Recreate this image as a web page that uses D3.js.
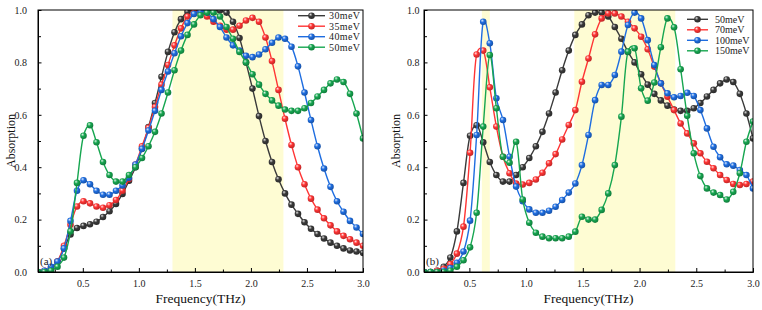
<!DOCTYPE html>
<html lang="en">
<head>
<meta charset="utf-8">
<title>Absorption spectra</title>
<script src="https://cdn.jsdelivr.net/npm/d3@7"></script>
<style>
  body { margin: 0; background: #fff; }
  svg text { font-family: "Liberation Serif", "Times New Roman", serif; }
</style>
</head>
<body>
<svg width="762" height="310" id="mainsvg"></svg>
<script>
// sampled frequencies (THz)
const freq = [0.1, 0.158, 0.216, 0.274, 0.332, 0.39, 0.448, 0.506, 0.564, 0.622,
  0.68, 0.738, 0.796, 0.854, 0.912, 0.97, 1.028, 1.086, 1.144, 1.202,
  1.26, 1.318, 1.376, 1.434, 1.492, 1.55, 1.608, 1.666, 1.724, 1.782,
  1.84, 1.898, 1.956, 2.014, 2.072, 2.13, 2.188, 2.246, 2.304, 2.362,
  2.42, 2.478, 2.536, 2.594, 2.652, 2.71, 2.768, 2.826, 2.884, 2.942, 3.0];

// panel (a)
const abs30 = [0, 0.003, 0.012, 0.04, 0.09, 0.143, 0.168, 0.176, 0.182, 0.192,
  0.21, 0.232, 0.26, 0.298, 0.348, 0.40, 0.47, 0.553, 0.645, 0.745,
  0.84, 0.915, 0.965, 0.993, 1.0, 1.0, 1.0, 1.0, 0.998, 0.99,
  0.955, 0.893, 0.80, 0.70, 0.595, 0.50, 0.42, 0.354, 0.30, 0.257,
  0.222, 0.19, 0.165, 0.145, 0.128, 0.112, 0.10, 0.09, 0.082, 0.078, 0.073];
const abs35 = [0, 0.005, 0.015, 0.04, 0.1, 0.18, 0.25, 0.27, 0.262, 0.25,
  0.245, 0.255, 0.275, 0.31, 0.355, 0.41, 0.48, 0.55, 0.63, 0.715,
  0.79, 0.865, 0.93, 0.975, 0.99, 0.99, 0.975, 0.955, 0.94, 0.925,
  0.925, 0.94, 0.96, 0.97, 0.955, 0.895, 0.805, 0.695, 0.585, 0.485,
  0.40, 0.335, 0.28, 0.238, 0.205, 0.178, 0.155, 0.138, 0.125, 0.112, 0.10];
const abs40 = [0, 0.005, 0.02, 0.04, 0.09, 0.195, 0.31, 0.35, 0.335, 0.31,
  0.295, 0.295, 0.31, 0.33, 0.36, 0.41, 0.47, 0.54, 0.615, 0.695,
  0.765, 0.835, 0.90, 0.95, 0.985, 0.995, 0.99, 0.965, 0.935, 0.895,
  0.865, 0.845, 0.825, 0.82, 0.83, 0.85, 0.875, 0.895, 0.89, 0.86,
  0.785, 0.685, 0.58, 0.48, 0.395, 0.325, 0.27, 0.23, 0.195, 0.17, 0.145];
const abs50 = [0, 0, 0.005, 0.02, 0.055, 0.155, 0.34, 0.52, 0.56, 0.495,
  0.42, 0.37, 0.345, 0.345, 0.37, 0.40, 0.435, 0.48, 0.535, 0.605,
  0.685, 0.77, 0.845, 0.905, 0.945, 0.98, 0.99, 0.99, 0.975, 0.935,
  0.89, 0.84, 0.80, 0.755, 0.715, 0.68, 0.655, 0.635, 0.62, 0.615,
  0.615, 0.625, 0.645, 0.67, 0.695, 0.72, 0.735, 0.725, 0.68, 0.605, 0.51];

// panel (b)
const abs70 = [0, 0, 0.005, 0.012, 0.03, 0.07, 0.173, 0.455, 0.83, 0.845,
  0.705, 0.555, 0.44, 0.377, 0.338, 0.334, 0.34, 0.353, 0.379, 0.415,
  0.45, 0.506, 0.561, 0.618, 0.726, 0.815, 0.907, 0.968, 0.987, 0.987,
  0.975, 0.955, 0.93, 0.898, 0.85, 0.784, 0.72, 0.669, 0.618, 0.567,
  0.529, 0.491, 0.453, 0.421, 0.396, 0.37, 0.351, 0.336, 0.332, 0.336, 0.345];
const abs100 = [0, 0, 0, 0.005, 0.015, 0.035, 0.078, 0.196, 0.523, 0.955,
  0.873, 0.663, 0.58, 0.44, 0.326, 0.27, 0.239, 0.226, 0.226, 0.234,
  0.249, 0.275, 0.303, 0.338, 0.408, 0.523, 0.656, 0.714, 0.714, 0.752,
  0.841, 0.943, 0.99, 0.968, 0.885, 0.79, 0.72, 0.682, 0.667, 0.672,
  0.684, 0.672, 0.618, 0.548, 0.478, 0.438, 0.411, 0.406, 0.389, 0.37, 0.319];
const abs150 = [0, 0, 0, 0, 0.005, 0.02, 0.045, 0.094, 0.226, 0.555,
  0.828, 0.625, 0.44, 0.417, 0.497, 0.277, 0.188, 0.15, 0.135, 0.129,
  0.129, 0.129, 0.135, 0.154, 0.211, 0.2, 0.2, 0.237, 0.3, 0.408,
  0.593, 0.841, 0.854, 0.701, 0.654, 0.723, 0.858, 0.968, 0.934, 0.774,
  0.596, 0.453, 0.366, 0.319, 0.303, 0.294, 0.277, 0.306, 0.377, 0.497, 0.574];

const leftNames = ['30meV', '35meV', '40meV', '50meV'];
const rightNames = ['50meV', '70meV', '100meV', '150meV'];
const leftBands = [[1.3, 2.29]];
const rightBands = [[0.61, 0.68], [1.425, 2.315]];
const xTicks = [0.5, 1.0, 1.5, 2.0, 2.5, 3.0];
const xMinor = [0.25, 0.75, 1.25, 1.75, 2.25, 2.75];
const yTicks = [0, 0.2, 0.4, 0.6, 0.8, 1.0];
const yMinor = [0.1, 0.3, 0.5, 0.7, 0.9];

const colors = ['#3a3a3a', '#ff3434', '#1e6de0', '#16a650'];

const svg = d3.select('#mainsvg');
svg.append('rect').attr('width', 762).attr('height', 310).attr('fill', '#fff');

// 球形点的渐变
const defs = svg.append('defs');
colors.forEach((c, i) => {
  const grad = defs.append('radialGradient').attr('id', 'ball' + i)
    .attr('cx', '40%').attr('cy', '40%').attr('r', '60%')
    .attr('fx', '35%').attr('fy', '30%');
  grad.append('stop').attr('offset', '0%').attr('stop-color', d3.interpolateRgb(c, '#fff')(0.85));
  grad.append('stop').attr('offset', '45%').attr('stop-color', c);
  grad.append('stop').attr('offset', '100%').attr('stop-color', d3.color(c).darker(0.8));
});

function drawPanel(opt) {
  const x = d3.scaleLinear().domain([0.1, 3.0]).range([opt.left, opt.right]);
  const y = d3.scaleLinear().domain([0, 1.0]).range([272, 10]);
  const g = svg.append('g');

  const clipId = 'clip-' + opt.id;
  defs.append('clipPath').attr('id', clipId)
    .append('rect')
    .attr('x', opt.left).attr('y', 10)
    .attr('width', opt.right - opt.left).attr('height', 262);

  // 黄色区域
  g.selectAll('.band').data(opt.bands).join('rect')
    .attr('x', d => x(d[0])).attr('y', 10)
    .attr('width', d => x(d[1]) - x(d[0])).attr('height', 262)
    .attr('fill', '#fefcd3');

  // curves
  const line = d3.line().x((d, i) => x(freq[i])).y(d => y(d)).curve(d3.curveCatmullRom.alpha(0.2));
  const plot = g.append('g').attr('clip-path', `url(#${clipId})`);
  opt.series.forEach((s, k) => {
    plot.append('path').attr('d', line(s))
      .attr('fill', 'none').attr('stroke', colors[k]).attr('stroke-width', 1.4);
    plot.selectAll(null).data(s).join('circle')
      .attr('cx', (d, i) => x(freq[i])).attr('cy', d => y(d))
      .attr('r', 3.3).attr('fill', `url(#ball${k})`);
  });

  // axes, ticks inward
  const xAxis = d3.axisBottom(x).tickValues(xTicks).tickFormat(d3.format('.1f'))
    .tickSize(-4).tickSizeOuter(0).tickPadding(8);
  const xAxisMinor = d3.axisBottom(x).tickValues(xMinor).tickFormat('')
    .tickSize(-2.5).tickSizeOuter(0);
  const yAxis = d3.axisLeft(y).tickValues(yTicks).tickFormat(d3.format('.1f'))
    .tickSize(-3.5).tickSizeOuter(0).tickPadding(opt.yPad);
  const yAxisMinor = d3.axisLeft(y).tickValues(yMinor).tickFormat('')
    .tickSize(-3).tickSizeOuter(0);

  g.append('g').attr('transform', 'translate(0,272)').call(xAxisMinor);
  g.append('g').attr('transform', 'translate(0,272)').call(xAxis);
  g.append('g').attr('transform', `translate(${opt.left},0)`).call(yAxisMinor);
  g.append('g').attr('transform', `translate(${opt.left},0)`).call(yAxis);
  g.selectAll('.tick text').attr('font-size', 10)
    .attr('font-family', '"Liberation Serif", serif').attr('fill', '#222');
  g.selectAll('.domain').attr('stroke', '#000');

  g.append('rect')
    .attr('x', opt.left).attr('y', 10)
    .attr('width', opt.right - opt.left).attr('height', 262)
    .attr('fill', 'none').attr('stroke', '#000').attr('stroke-width', 1);

  g.append('text').text('Frequency(THz)')
    .attr('x', (opt.left + opt.right) / 2).attr('y', 303)
    .attr('text-anchor', 'middle').attr('font-size', 13.5).attr('fill', '#111');
  g.append('text').text('Absorption')
    .attr('transform', `translate(${opt.yLabelX},141) rotate(-90)`)
    .attr('text-anchor', 'middle').attr('font-size', 12).attr('fill', '#111');

  g.append('text').text(opt.tag)
    .attr('x', opt.left + 2).attr('y', 265)
    .attr('font-size', 11).attr('fill', '#222');

  // legend
  const lg = g.append('g');
  opt.names.forEach((n, k) => {
    const ly = opt.legY + k * opt.legStep;
    lg.append('line')
      .attr('x1', opt.legX).attr('x2', opt.legX + opt.legLen)
      .attr('y1', ly).attr('y2', ly)
      .attr('stroke', colors[k]).attr('stroke-width', 1.4);
    lg.append('circle')
      .attr('cx', opt.legX + opt.legLen / 2).attr('cy', ly).attr('r', 3.3)
      .attr('fill', `url(#ball${k})`);
    lg.append('text').text(n)
      .attr('x', opt.legX + opt.legLen + opt.legGap).attr('y', ly + 3.5)
      .attr('font-size', opt.legFont).attr('letter-spacing', opt.legSpacing)
      .attr('fill', '#222');
  });
}

drawPanel({
  id: 'a', tag: '(a)', left: 38, right: 363, yPad: 11, yLabelX: 15,
  bands: leftBands, series: [abs30, abs35, abs40, abs50], names: leftNames,
  legX: 298, legLen: 27, legGap: 4, legY: 15.7, legStep: 10.5, legFont: 10, legSpacing: 0.4
});
drawPanel({
  id: 'b', tag: '(b)', left: 424, right: 753, yPad: 4.5, yLabelX: 400,
  bands: rightBands, series: [abs50, abs70, abs100, abs150], names: rightNames,
  legX: 687, legLen: 21, legGap: 7, legY: 19.3, legStep: 10.5, legFont: 10, legSpacing: 0
});
</script>
</body>
</html>
